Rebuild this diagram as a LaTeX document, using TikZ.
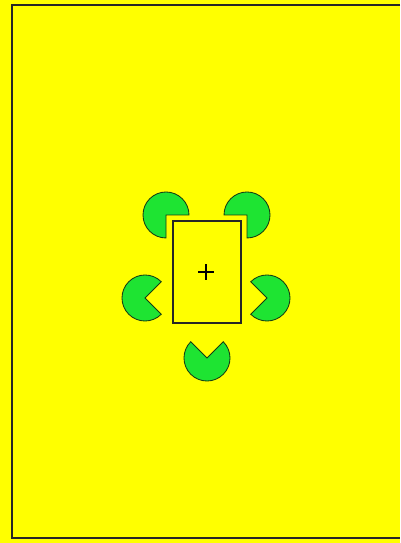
\documentclass[tikz,border=0pt]{standalone}
\usepackage{tikz}

\definecolor{bgyellow}{RGB}{255,255,0}
\definecolor{pacgreen}{RGB}{30,228,50}
\definecolor{pacedge}{RGB}{20,60,20}

\tikzset{
    pacman/.style={fill=pacgreen, draw=pacedge, line width=0.6pt, line join=miter},
    frame/.style={draw=black!85, line width=1.1pt},
    board/.style={draw=black!85, line width=0.9pt}
}

\begin{document}
\begin{tikzpicture}[x=0.025cm, y=0.025cm]
    \fill[bgyellow] (0,0) rectangle (400,543);
    \useasboundingbox (0,0) rectangle (400,543);

    \draw[frame] (400,538) -- (12,538) -- (12,5) -- (400,5);

    \coordinate (TL) at (166,328);
    \coordinate (TR) at (247,328);
    \coordinate (L)  at (145,245);
    \coordinate (R)  at (267,245);
    \coordinate (B)  at (207,185);

    \foreach \P/\a/\b in {TL/0/270, TR/-90/180, L/45/315, R/-135/135, B/135/405}
        \draw[pacman] (\P) -- ++(\a:23) arc (\a:\b:23) -- cycle;

    \draw[board] (173,220) rectangle (241,322);

    \coordinate (C) at (206,271);
    \draw[line width=0.8pt] ([xshift=-8*0.025cm]C) -- ([xshift=8*0.025cm]C);
    \draw[line width=0.8pt] ([yshift=-8*0.025cm]C) -- ([yshift=8*0.025cm]C);
\end{tikzpicture}
\end{document}
